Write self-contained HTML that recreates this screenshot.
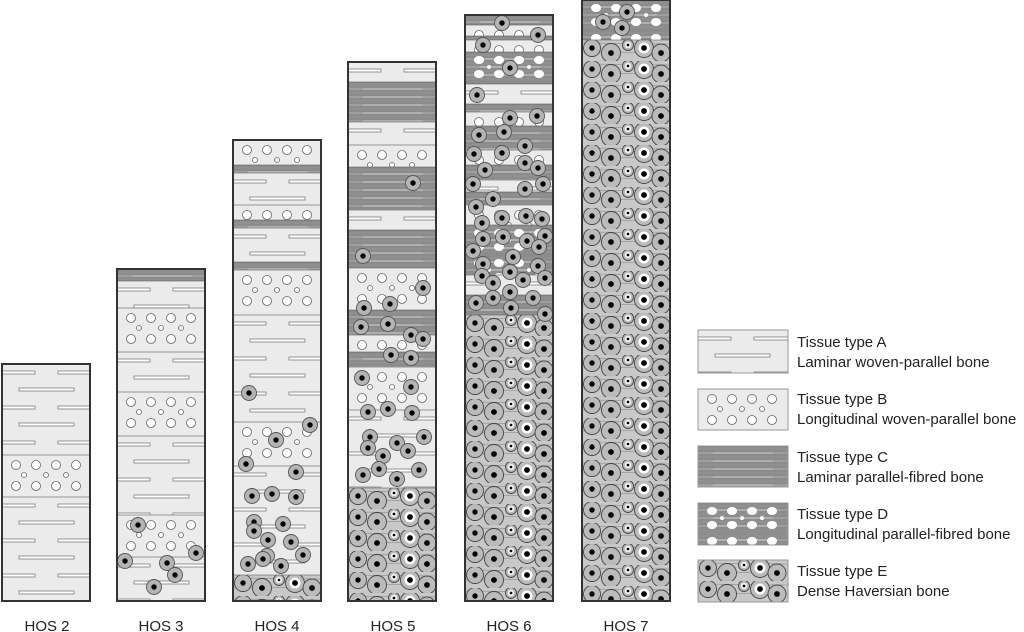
<!DOCTYPE html>
<html><head><meta charset="utf-8">
<style>
html,body{margin:0;padding:0;background:#fff;width:1024px;height:632px;overflow:hidden}
svg{display:block}
text{font-family:"Liberation Sans",sans-serif;fill:#222}
</style></head>
<body>
<svg id="s" width="1024" height="632" viewBox="0 0 1024 632" xmlns="http://www.w3.org/2000/svg">
<defs>
<pattern id="pA" patternUnits="userSpaceOnUse" width="89" height="35">
<rect width="89" height="35" fill="#ebebeb"/>
<rect x="-1" y="7" width="34" height="3" fill="#fff" stroke="#8a8a8a" stroke-width="0.9"/>
<rect x="56" y="7" width="35" height="3" fill="#fff" stroke="#8a8a8a" stroke-width="0.9"/>
<rect x="17" y="24" width="55" height="3" fill="#fff" stroke="#8a8a8a" stroke-width="0.9"/>
</pattern>
<pattern id="pB" patternUnits="userSpaceOnUse" width="89" height="44">
<rect width="89" height="44" fill="#ebebeb"/>
<g fill="#fff" stroke="#666" stroke-width="0.8">
<circle cx="14" cy="10" r="4.5"/><circle cx="34" cy="10" r="4.5"/><circle cx="54" cy="10" r="4.5"/><circle cx="74" cy="10" r="4.5"/>
<circle cx="22" cy="20" r="2.5"/><circle cx="44" cy="20" r="2.5"/><circle cx="64" cy="20" r="2.5"/>
<circle cx="14" cy="31" r="4.5"/><circle cx="34" cy="31" r="4.5"/><circle cx="54" cy="31" r="4.5"/><circle cx="74" cy="31" r="4.5"/>
</g>
</pattern>
<pattern id="pC" patternUnits="userSpaceOnUse" width="89" height="8">
<rect width="89" height="8" fill="#9e9e9e"/>
<line x1="0" y1="1" x2="89" y2="1" stroke="#6e6e6e" stroke-width="0.8"/>
<line x1="0" y1="3" x2="89" y2="3" stroke="#777" stroke-width="0.8"/>
<line x1="0" y1="5" x2="89" y2="5" stroke="#6e6e6e" stroke-width="0.8"/>
<line x1="15" y1="7" x2="75" y2="7" stroke="#ccc" stroke-width="0.8"/>
</pattern>
<pattern id="pD" patternUnits="userSpaceOnUse" width="89" height="30">
<rect width="89" height="30" fill="url(#pC)"/>
<g fill="#fff">
<ellipse cx="14" cy="8" rx="5" ry="4"/><ellipse cx="34" cy="8" rx="5" ry="4"/><ellipse cx="54" cy="8" rx="5" ry="4"/><ellipse cx="74" cy="8" rx="5" ry="4"/>
<circle cx="24" cy="15" r="2"/><circle cx="44" cy="15" r="2"/><circle cx="64" cy="15" r="2"/>
<ellipse cx="14" cy="22" rx="5" ry="4"/><ellipse cx="34" cy="22" rx="5" ry="4"/><ellipse cx="54" cy="22" rx="5" ry="4"/><ellipse cx="74" cy="22" rx="5" ry="4"/>
</g>
</pattern>
<pattern id="pE" patternUnits="userSpaceOnUse" width="89" height="21">
<rect width="89" height="21" fill="#c8c8c8"/>
<g stroke="#999" stroke-width="0.7"><line x1="0" y1="3" x2="89" y2="4"/><line x1="0" y1="13" x2="89" y2="12"/></g>
<g fill="#bbb" stroke="#444" stroke-width="0.9">
<circle cx="10" cy="8" r="8.5"/><circle cx="29" cy="13" r="9.5"/><circle cx="46" cy="5" r="5.5"/><circle cx="62" cy="8" r="9.5"/><circle cx="79" cy="13" r="9"/>
</g>
<circle cx="46" cy="5" r="3" fill="#fff"/><circle cx="62" cy="8" r="5.5" fill="#fff"/>
<g fill="#000"><circle cx="10" cy="8" r="2.7"/><circle cx="29" cy="13" r="2.9"/><circle cx="46" cy="5" r="1.4"/><circle cx="62" cy="8" r="2.9"/><circle cx="79" cy="13" r="2.9"/></g>
</pattern>
</defs>
<g id="cols"></g>
<g id="leg"></g>
<g font-size="15" text-anchor="middle">
<text x="47" y="631">HOS 2</text>
<text x="161" y="631">HOS 3</text>
<text x="277" y="631">HOS 4</text>
<text x="393" y="631">HOS 5</text>
<text x="509" y="631">HOS 6</text>
<text x="626" y="631">HOS 7</text>
</g>
<g font-size="15">
<text x="797" y="347">Tissue type A</text><text x="797" y="367">Laminar woven-parallel bone</text>
<text x="797" y="404">Tissue type B</text><text x="797" y="424">Longitudinal woven-parallel bone</text>
<text x="797" y="462">Tissue type C</text><text x="797" y="482">Laminar parallel-fibred bone</text>
<text x="797" y="519">Tissue type D</text><text x="797" y="539">Longitudinal parallel-fibred bone</text>
<text x="797" y="576">Tissue type E</text><text x="797" y="596">Dense Haversian bone</text>
</g>
</svg>
<script>
var cols=[
{x:2,top:364,b:[["A",364,455],["B",455,497],["A",497,601]],c:[]},
{x:117,top:269,b:[["C",269,281],["A",281,308],["B",308,352],["A",352,392],["B",392,436],["A",436,515],["B",515,557],["A",557,601]],
 c:[[138,525],[196,553],[125,561],[167,563],[175,575],[154,587]]},
{x:233,top:140,b:[["B",140,165],["C",165,173],["A",173,205],["B",205,220],["C",220,228],["A",228,262],["C",262,270],["B",270,315],["A",315,422],["B",422,466],["A",466,575],["E",575,601]],
 c:[[249,393],[310,425],[276,440],[246,464],[296,472],[252,496],[272,494],[296,497],[254,522],[283,524],[254,531],[268,540],[291,542],[267,556],[248,564],[263,559],[303,555],[281,566]]},
{x:348,top:62,b:[["A",62,82],["C",82,122],["A",122,145],["B",145,167],["C",167,210],["A",210,230],["C",230,268],["B",268,310],["C",310,335],["B",335,352],["C",352,367],["B",367,410],["A",410,488],["E",488,601]],
 c:[[413,183],[363,256],[423,288],[364,308],[390,304],[361,327],[388,324],[411,335],[423,339],[391,355],[411,358],[362,378],[411,387],[368,412],[388,409],[412,413],[370,437],[397,443],[424,437],[368,448],[383,456],[408,451],[363,475],[379,469],[397,479],[419,470]]},
{x:465,top:15,b:[["C",15,25],["B",25,36],["C",36,40],["B",40,52],["D",52,84],["A",84,104],["C",104,112],["B",112,126],["C",126,150],["B",150,165],["C",165,180],["A",180,192],["C",192,205],["B",205,225],["D",225,275],["A",275,295],["C",295,315],["E",315,601]],
 c:[[502,23],[538,35],[483,45],[510,68],[477,95],[510,118],[537,116],[479,135],[504,132],[525,146],[474,154],[502,153],[525,163],[538,168],[485,170],[473,184],[525,189],[543,184],[493,199],[476,207],[502,218],[526,216],[542,219],[482,223],[545,236],[483,239],[503,237],[527,241],[473,251],[539,247],[513,257],[483,264],[538,266],[510,272],[482,276],[493,283],[523,280],[545,278],[510,292],[533,298],[493,298],[476,303],[511,308],[545,314]]},
{x:582,top:0,b:[["D",0,40],["E",40,601]],c:[[603,22],[627,12],[622,28]]}
];
var h="";
function col(o){
 o.b.forEach(function(b){h+='<g transform="translate('+o.x+','+b[1]+')"><rect x="0" y="0" width="88" height="'+(b[2]-b[1])+'" fill="url(#p'+b[0]+')"/>';
  h+='<line x1="0" y1="0" x2="88" y2="0" stroke="#777" stroke-width="0.8"/></g>';});
 o.c.forEach(function(c){h+='<circle cx="'+c[0]+'" cy="'+c[1]+'" r="7.5" fill="#b4b4b4" stroke="#555" stroke-width="0.9"/><circle cx="'+c[0]+'" cy="'+c[1]+'" r="2.7" fill="#000"/>';});
 h+='<rect x="'+o.x+'" y="'+o.top+'" width="88" height="'+(601-o.top)+'" fill="none" stroke="#333" stroke-width="2"/>';
}
cols.forEach(col);
document.getElementById("cols").innerHTML=h;
var L=[["A",330,373],["B",389,430],["C",446,487],["D",503,545],["E",560,602]],g="";
L.forEach(function(l){g+='<g transform="translate(698,'+l[1]+')"><rect x="0" y="0" width="90" height="'+(l[2]-l[1])+'" fill="url(#p'+l[0]+')" stroke="#999" stroke-width="1"/></g>';});
document.getElementById("leg").innerHTML=g;
</script>
</body></html>
